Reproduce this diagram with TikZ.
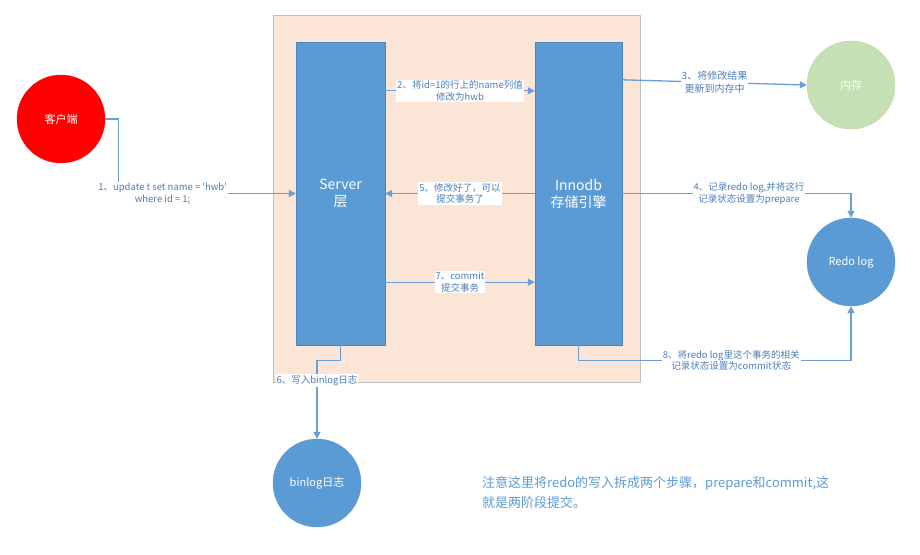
\documentclass[tikz,border=0pt]{standalone}
\usepackage{fontspec}
\setmainfont{Noto Sans CJK SC}
\usetikzlibrary{arrows.meta,calc}
\definecolor{bluefill}{HTML}{5B9BD5}
\definecolor{peach}{HTML}{FBE5D6}
\definecolor{greenfill}{HTML}{C5E0B4}
\definecolor{linecol}{HTML}{6A9FD6}
\definecolor{lblcol}{HTML}{4A7EBB}
\definecolor{notecol}{HTML}{5B9BD5}
\begin{document}
\begin{tikzpicture}[x=1pt,y=-1pt,
  bar/.style={draw=bluefill!85!black,line width=0.4pt,fill=bluefill,text=white,minimum width=#1,minimum height=303pt,align=center,font=\fontsize{14}{17}\selectfont,inner sep=0pt},
  circ/.style={circle,fill=#1,draw=#1!85!gray,minimum size=88pt,inner sep=0pt,text=white,font=\fontsize{11}{13}\selectfont},
  arr/.style={draw=linecol,line width=1.3pt,-{Triangle[width=7pt,length=7pt]}},
  lbl/.style={fill=white,text=lblcol,inner sep=1pt,align=center,font=\fontsize{9.5}{11.5}\selectfont}]
\useasboundingbox (0,0) rectangle (920,554);
\fill[white] (0,0) rectangle (920,554);
\node[draw=gray!50,fill=peach,minimum width=367pt,minimum height=367pt,inner sep=0pt] (bg) at (456.5,198.5) {};
\node[bar=89pt] (srv) at (340.5,193.5) {Server\\层};
\node[bar=87pt] (inn) at (578.5,193.5) {Innodb\\存储引擎};
\node[circ=red] (cli) at (61,119) {客户端};
\node[circ=greenfill] (mem) at (851,85) {内存};
\node[circ=bluefill] (redo) at (851,262) {Redo log};
\node[circ=bluefill] (bin) at (317,483) {binlog日志};
% 1
\draw[arr] (cli.east) -- ++(13,0) |- (srv.west)
  node[lbl,pos=0.625] {1、update t set name = \textquotesingle hwb\textquotesingle\\where id = 1;};
% 2
\draw[arr] ($(srv.north east)+(0,49)$) -- ($(inn.north west)+(0,49)$)
  node[lbl,midway] {2、将id=1的行上的name列值\\修改为hwb};
% 3
\draw[arr] ($(inn.north east)+(0,38)$) -- (mem.west)
  node[lbl,pos=0.5,font=\fontsize{10}{13}\selectfont] {3、将修改结果\\更新到内存中};
% 4
\draw[arr] (inn.east) -| (redo.north)
  node[lbl,pos=0.277] {4、记录redo log,并将这行\\记录状态设置为prepare};
% 5
\draw[arr] (inn.west) -- (srv.east)
  node[lbl,midway] {5、修改好了，可以\\提交事务了};
% 6
\draw[arr] (srv.south) -- ++(0,15) -| (bin.north)
  node[lbl,pos=0.63] {6、写入binlog日志};
% 7
\draw[arr] ($(srv.south east)+(0,-63)$) -- ($(inn.south west)+(0,-63)$)
  node[lbl,midway] {7、commit\\提交事务};
% 8
\draw[arr] ($(inn.south west)+(44,0)$) -- ++(0,15) -| (redo.south)
  node[lbl,pos=0.28] {8、将redo log里这个事务的相关\\记录状态设置为commit状态};
% note
\node[anchor=west,text=notecol,align=left,inner sep=0pt,font=\fontsize{13}{20}\selectfont] (note) at (482,493)
  {注意这里将redo的写入拆成两个步骤，prepare和commit,这\\就是两阶段提交。};
\end{tikzpicture}
\end{document}
